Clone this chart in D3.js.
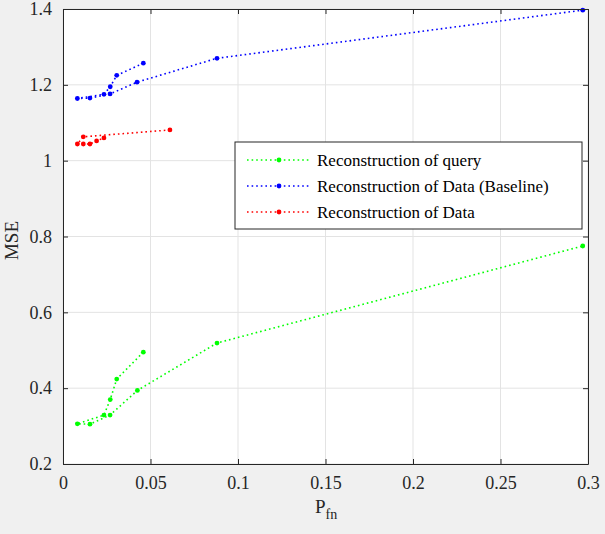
<!DOCTYPE html>
<html>
<head>
<meta charset="utf-8">
<script src="https://cdn.jsdelivr.net/npm/d3@7"></script>
<style>
  body { margin: 0; background: #f0f0f0; }
  svg { display: block; }
  svg text { font-family: "Liberation Serif", "Times New Roman", serif; }
</style>
</head>
<body>
<svg id="chart"></svg>
<script>
// Data arrays (points in plotting order)
const queryX = [0.0459, 0.0307, 0.027, 0.0234, 0.0082, 0.0154, 0.0269, 0.0425, 0.088, 0.297];
const queryY = [0.495, 0.424, 0.370, 0.329, 0.306, 0.305, 0.329, 0.394, 0.519, 0.775];

const baseX = [0.0459, 0.0307, 0.027, 0.0234, 0.0082, 0.0154, 0.0269, 0.0423, 0.088, 0.297];
const baseY = [1.257, 1.225, 1.195, 1.175, 1.164, 1.165, 1.176, 1.207, 1.270, 1.397];

const dataX = [0.0611, 0.0116, 0.0082, 0.0116, 0.0154, 0.0192, 0.0234];
const dataY = [1.081, 1.063, 1.044, 1.044, 1.044, 1.052, 1.060];

const xTicks = [0, 0.05, 0.1, 0.15, 0.2, 0.25, 0.3];
const xTickLabels = ["0", "0.05", "0.1", "0.15", "0.2", "0.25", "0.3"];
const yTicks = [0.2, 0.4, 0.6, 0.8, 1, 1.2, 1.4];
const yTickLabels = ["0.2", "0.4", "0.6", "0.8", "1", "1.2", "1.4"];

const seriesNames = ["Reconstruction of query", "Reconstruction of Data (Baseline)", "Reconstruction of Data"];
const seriesColors = ["#00ff00", "#0000ff", "#ff0000"];

const series = [
  queryX.map((x, i) => ({ x: x, y: queryY[i] })),
  baseX.map((x, i) => ({ x: x, y: baseY[i] })),
  dataX.map((x, i) => ({ x: x, y: dataY[i] }))
];

// Dimensions
const margin = { top: 9, right: 17, bottom: 70, left: 63 };
const width = 605 - margin.left - margin.right;
const height = 534 - margin.top - margin.bottom;
const serif = "'Liberation Serif', 'Times New Roman', serif";

const svg = d3.select("#chart")
    .attr("width", 605)
    .attr("height", 534)
  .append("g")
    .attr("transform", `translate(${margin.left},${margin.top})`);

// Scales
const x = d3.scaleLinear().domain([0, 0.3]).range([0, width]);
const y = d3.scaleLinear().domain([0.2, 1.4]).range([height, 0]);

// Plot background
svg.append("rect")
    .attr("width", width)
    .attr("height", height)
    .attr("fill", "#ffffff");

// Grid lines
svg.append("g")
    .selectAll("line")
    .data(xTicks)
  .enter().append("line")
    .attr("x1", d => x(d)).attr("x2", d => x(d))
    .attr("y1", 0).attr("y2", height)
    .attr("stroke", "#e3e3e3");

svg.append("g")
    .selectAll("line")
    .data(yTicks)
  .enter().append("line")
    .attr("x1", 0).attr("x2", width)
    .attr("y1", d => y(d)).attr("y2", d => y(d))
    .attr("stroke", "#e3e3e3");

// Series lines and markers
const line = d3.line().x(d => x(d.x)).y(d => y(d.y));

series.forEach((pts, i) => {
  svg.append("path")
      .datum(pts)
      .attr("d", line)
      .attr("fill", "none")
      .attr("stroke", seriesColors[i])
      .attr("stroke-width", 1.6)
      .attr("stroke-dasharray", "1.6 3");

  svg.append("g")
      .selectAll("circle")
      .data(pts)
    .enter().append("circle")
      .attr("cx", d => x(d.x))
      .attr("cy", d => y(d.y))
      .attr("r", 2.4)
      .attr("fill", seriesColors[i]);
});

// Axes (MATLAB style: ticks inside, box around)
const axisColor = "#262626";

const xAxis = svg.append("g")
    .attr("transform", `translate(0,${height})`)
    .call(d3.axisBottom(x).tickValues(xTicks).tickFormat((d, i) => xTickLabels[i])
      .tickSizeInner(-5).tickSizeOuter(0).tickPadding(12));

const xAxisTop = svg.append("g")
    .call(d3.axisTop(x).tickValues(xTicks).tickFormat("").tickSizeInner(-5).tickSizeOuter(0));

const yAxis = svg.append("g")
    .call(d3.axisLeft(y).tickValues(yTicks).tickFormat((d, i) => yTickLabels[i])
      .tickSizeInner(-5).tickSizeOuter(0).tickPadding(11));

const yAxisRight = svg.append("g")
    .attr("transform", `translate(${width},0)`)
    .call(d3.axisRight(y).tickValues(yTicks).tickFormat("").tickSizeInner(-5).tickSizeOuter(0));

[xAxis, xAxisTop, yAxis, yAxisRight].forEach(a => {
  a.attr("font-family", serif).attr("font-size", 18);
  a.selectAll("path, line").style("stroke", axisColor);
  a.selectAll("text").style("fill", axisColor);
});

// Axis labels
const xLabel = svg.append("text")
    .attr("x", 252)
    .attr("y", height + 49)
    .attr("font-family", serif)
    .style("font-size", "19px")
    .style("fill", axisColor);
xLabel.append("tspan").text("P");
xLabel.append("tspan").attr("dy", 6).style("font-size", "14px").text("fn");

svg.append("text")
    .attr("transform", `translate(${-margin.left + 18},${height / 2 + 4}) rotate(-90)`)
    .attr("text-anchor", "middle")
    .attr("font-family", serif)
    .style("font-size", "19px")
    .style("fill", axisColor)
    .text("MSE");

// Legend
const legend = svg.append("g")
    .attr("transform", `translate(${235 - margin.left},${142 - margin.top})`);

legend.append("rect")
    .attr("width", 347)
    .attr("height", 87)
    .attr("fill", "#ffffff")
    .attr("stroke", axisColor);

seriesNames.forEach((name, i) => {
  const ly = 18 + i * 26;
  legend.append("line")
      .attr("x1", 12).attr("x2", 75)
      .attr("y1", ly).attr("y2", ly)
      .attr("stroke", seriesColors[i])
      .attr("stroke-width", 1.6)
      .attr("stroke-dasharray", "1.6 3");
  legend.append("circle")
      .attr("cx", 44).attr("cy", ly)
      .attr("r", 2.4)
      .attr("fill", seriesColors[i]);
  legend.append("text")
      .attr("x", 82)
      .attr("y", ly + 6)
      .attr("font-family", serif)
      .style("font-size", "17px")
      .style("fill", "#000000")
      .text(name);
});
</script>
</body>
</html>
